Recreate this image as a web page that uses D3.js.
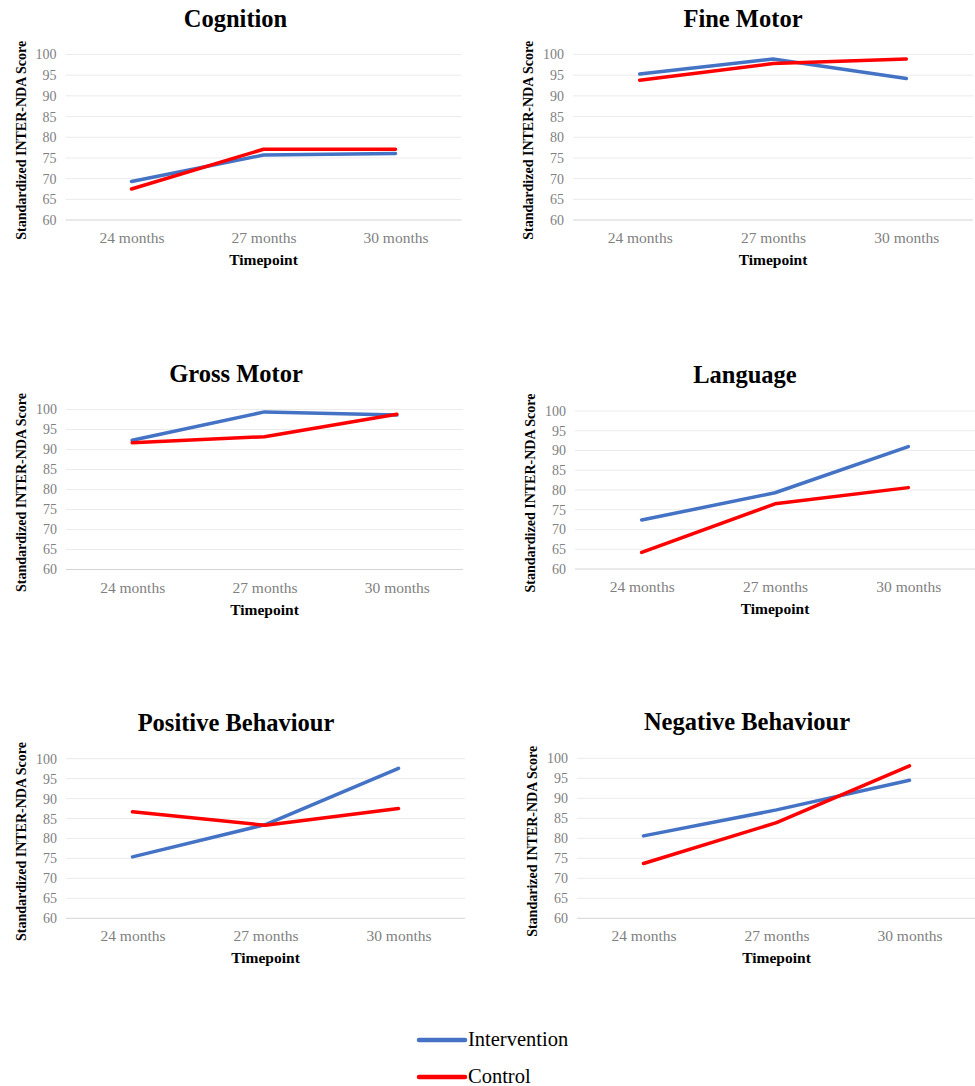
<!DOCTYPE html>
<html>
<head>
<meta charset="utf-8">
<script src="https://cdn.jsdelivr.net/npm/d3@7"></script>
<style>
  html, body { margin: 0; padding: 0; background: #fff; }
  svg { display: block; }
</style>
</head>
<body>
<svg id="chart" width="975" height="1086"></svg>
<script>
const TIMEPOINTS = ['24 months', '27 months', '30 months'];
const Y_TICKS = [60, 65, 70, 75, 80, 85, 90, 95, 100];

const TITLES = ['Cognition', 'Fine Motor', 'Gross Motor', 'Language', 'Positive Behaviour', 'Negative Behaviour'];
const Y_LABELS = [
  'Standardized INTER-NDA Score',
  'Standardized INTER-NDA Score',
  'Standardized INTER-NDA Score',
  'Standardized INTER-NDA Score',
  'Standardized INTER-NDA Score',
  'Standarized INTER-NDA Score'
];

// values, one array per panel per group
const cognitionIntervention = [69.3, 75.7, 76.1];
const cognitionControl = [67.5, 77.1, 77.1];
const fineMotorIntervention = [95.3, 98.9, 94.2];
const fineMotorControl = [93.8, 97.8, 98.9];
const grossMotorIntervention = [92.3, 99.4, 98.6];
const grossMotorControl = [91.7, 93.2, 98.8];
const languageIntervention = [72.4, 79.3, 91.0];
const languageControl = [64.2, 76.5, 80.6];
const positiveIntervention = [75.4, 83.5, 97.6];
const positiveControl = [86.7, 83.3, 87.5];
const negativeIntervention = [80.6, 87.1, 94.5];
const negativeControl = [73.7, 83.9, 98.1];

const INTERVENTION = [cognitionIntervention, fineMotorIntervention, grossMotorIntervention,
  languageIntervention, positiveIntervention, negativeIntervention];
const CONTROL = [cognitionControl, fineMotorControl, grossMotorControl,
  languageControl, positiveControl, negativeControl];

const SERIES_NAMES = ['Intervention', 'Control'];
const COLORS = { Intervention: '#4472C4', Control: '#FF0000' };

// plot boxes (left, top of 100 gridline, width, bottom of 60 gridline)
const BOXES = [
  { left: 65.5, top: 54.5, width: 396, bottom: 220 },
  { left: 573, top: 54.5, width: 400, bottom: 220 },
  { left: 66, top: 409.5, width: 397, bottom: 569.5 },
  { left: 575, top: 411, width: 400, bottom: 569 },
  { left: 66, top: 758.7, width: 399, bottom: 918.3 },
  { left: 577, top: 758.3, width: 399, bottom: 918.3 }
];

const FONT = '"Liberation Serif", "Times New Roman", Times, serif';
const GREY = '#7f7f7f';

const svg = d3.select('#chart').attr('font-family', FONT);

TITLES.forEach((title, i) => {
  const b = BOXES[i];
  const x = d3.scalePoint().domain(TIMEPOINTS).range([b.left, b.left + b.width]).padding(0.5);
  const y = d3.scaleLinear().domain([60, 100]).range([b.bottom, b.top]);
  const g = svg.append('g').attr('class', 'panel');

  // gridlines
  g.append('g')
    .selectAll('line')
    .data(Y_TICKS)
    .join('line')
    .attr('x1', b.left)
    .attr('x2', b.left + b.width)
    .attr('y1', (d) => y(d))
    .attr('y2', (d) => y(d))
    .attr('stroke', (d) => (d === 60 ? '#d4d4d4' : '#ebebeb'))
    .attr('stroke-width', 1);

  // y tick labels
  g.append('g')
    .call(d3.axisLeft(y).tickValues(Y_TICKS).tickSize(0).tickPadding(0))
    .attr('transform', `translate(${b.left - 9},0)`)
    .call((a) => a.select('.domain').remove())
    .call((a) => a.selectAll('text')
      .attr('font-family', FONT)
      .attr('font-size', 14)
      .attr('fill', GREY));

  // x tick labels
  g.append('g')
    .attr('transform', `translate(0,${b.bottom})`)
    .call(d3.axisBottom(x).tickSize(0).tickPadding(0))
    .call((a) => a.select('.domain').remove())
    .call((a) => a.selectAll('text')
      .attr('font-family', FONT)
      .attr('font-size', 15.5)
      .attr('fill', GREY)
      .attr('dy', 0)
      .attr('y', 23));

  // lines
  const line = d3.line().x((d, j) => x(TIMEPOINTS[j])).y((d) => y(d));
  [INTERVENTION[i], CONTROL[i]].forEach((vals, k) => {
    g.append('path')
      .datum(vals)
      .attr('d', line)
      .attr('fill', 'none')
      .attr('stroke', COLORS[SERIES_NAMES[k]])
      .attr('stroke-width', 3.5)
      .attr('stroke-linejoin', 'round')
      .attr('stroke-linecap', 'round');
  });

  // title
  g.append('text')
    .attr('x', b.left + 170)
    .attr('y', b.top - 28)
    .attr('text-anchor', 'middle')
    .attr('font-size', 24.5)
    .attr('font-weight', 700)
    .attr('fill', '#000')
    .text(title);

  // x axis title
  g.append('text')
    .attr('x', b.left + b.width / 2)
    .attr('y', b.bottom + 45)
    .attr('text-anchor', 'middle')
    .attr('font-size', 15.5)
    .attr('font-weight', 700)
    .attr('fill', '#000')
    .text('Timepoint');

  // y axis title
  const cy = (b.top + b.bottom) / 2 + 3;
  g.append('text')
    .attr('transform', `translate(${b.left - 40},${cy}) rotate(-90)`)
    .attr('text-anchor', 'middle')
    .attr('font-size', 14)
    .attr('font-weight', 700)
    .attr('fill', '#000')
    .text(Y_LABELS[i]);
});

// legend
const legend = svg.append('g').attr('class', 'legend');
SERIES_NAMES.forEach((name, k) => {
  const ly = 1040 + k * 37;
  legend.append('line')
    .attr('x1', 419)
    .attr('x2', 465)
    .attr('y1', ly)
    .attr('y2', ly)
    .attr('stroke', COLORS[name])
    .attr('stroke-width', 4.5)
    .attr('stroke-linecap', 'round');
  legend.append('text')
    .attr('x', 468)
    .attr('y', ly + 6)
    .attr('font-size', 20.5)
    .attr('fill', '#000')
    .text(name);
});
</script>
</body>
</html>
